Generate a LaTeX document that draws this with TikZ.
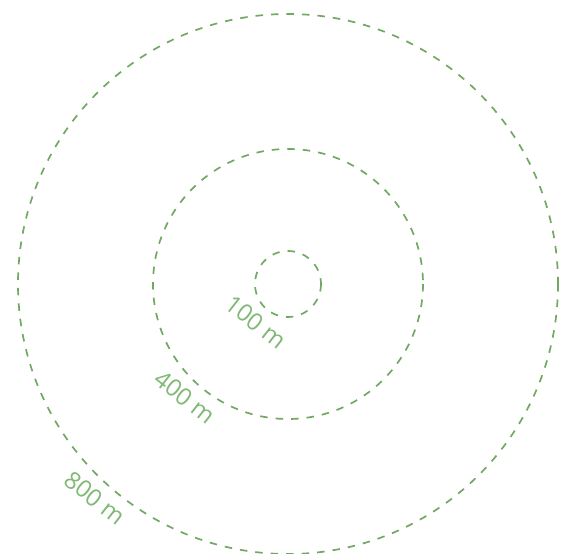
\documentclass[tikz,border=0pt]{standalone}
\usepackage{fontspec}
\setmainfont{Open Sans}
\usetikzlibrary{positioning}
\definecolor{ringgreen}{RGB}{112,168,100}
\definecolor{labelgreen}{RGB}{128,184,118}

\begin{document}
\begin{tikzpicture}[
  x=1pt, y=-1pt,
  ring/.style={draw=ringgreen, line width=1.7pt, dash pattern=on 7.5pt off 8pt},
  ringlabel/.style={text=labelgreen, font=\fontsize{24}{24}\selectfont, rotate=-38, inner sep=0pt}
]
  \useasboundingbox (0,0) rectangle (561,553);
  \coordinate (c) at (288,284);
  \draw[ring] (c) circle[radius=33];
  \draw[ring] (c) circle[radius=135];
  \draw[ring] (c) circle[radius=270];
  \node[ringlabel] (l100) at (256,322) {100 m};
  \node[ringlabel] (l400) at (185,397) {400 m};
  \node[ringlabel] (l800) at (95,498) {800 m};
\end{tikzpicture}
\end{document}
